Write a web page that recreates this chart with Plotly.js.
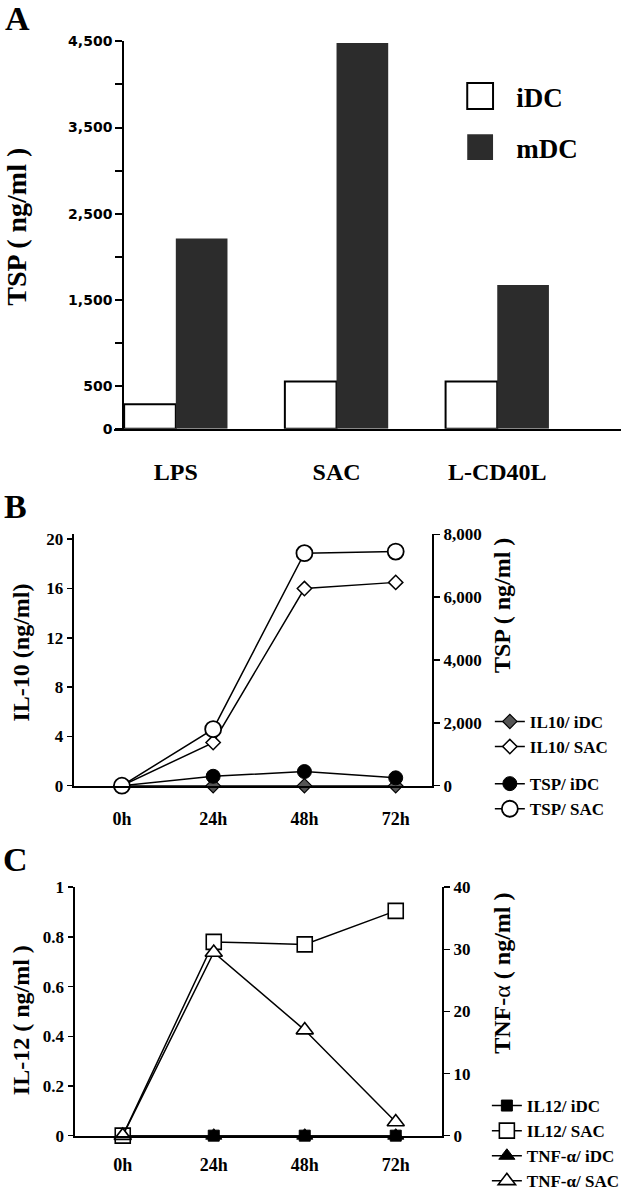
<!DOCTYPE html>
<html><head><meta charset="utf-8">
<script src="https://cdn.plot.ly/plotly-3.0.1.min.js"></script>
<style>html,body{margin:0;padding:0;background:#fff;overflow:hidden}</style>
</head><body><div id="chart" style="width:625px;height:1199px"></div>
<script>
// ---------- Panel A data ----------
const stimuli = ['LPS', 'SAC', 'L-CD40L'];
const tspIDC = [285, 550, 550];
const tspMDC = [2210, 4480, 1670];
const tspTickVals = [0, 500, 1000, 1500, 2000, 2500, 3000, 3500, 4000, 4500];
const tspTickText = ['0', '500', '', '1,500', '', '2,500', '', '3,500', '', '4,500'];

// ---------- Panel B data ----------
const times = ['0h', '24h', '48h', '72h'];
const il10IDC = [0, 0, 0, 0];
const il10SAC = [0, 3.5, 16, 16.5];
const tspTimeIDC = [0, 300, 450, 250];
const tspTimeSAC = [0, 1800, 7400, 7450];
const il10TickVals = [0, 4, 8, 12, 16, 20];
const tspRightVals = [0, 2000, 4000, 6000, 8000];
const tspRightText = ['0', '2,000', '4,000', '6,000', '8,000'];

// ---------- Panel C data ----------
const il12IDC = [0, 0, 0, 0];
const il12SAC = [0, 0.78, 0.77, 0.905];
const tnfIDC = [0, 0, 0, 0];
const tnfSAC = [0, 29.5, 17, 2.2];
const il12TickVals = [0, 0.2, 0.4, 0.6, 0.8, 1];
const il12TickText = ['0', '0.2', '0.4', '0.6', '0.8', '1'];
const tnfTickVals = [0, 10, 20, 30, 40];

// ---------- helpers ----------
const W = 625, H = 1199;
const X = px => px / W;
const Y = py => 1 - py / H;
const SERIF = 'Liberation Serif, Times New Roman, serif';
const bold = (size, family) => ({family: family || SERIF, size: size, weight: 'bold', color: '#000'});

const lineStyle = {color: '#000', width: 1.5};

const traces = [
  // Panel A
  {type: 'bar', x: stimuli, y: tspIDC, name: 'iDC', xaxis: 'x', yaxis: 'y', legend: 'legend', legendgroup: 'a1',
   marker: {color: '#ffffff', line: {color: '#000', width: 2}}},
  {type: 'bar', x: stimuli, y: tspMDC, name: 'mDC', xaxis: 'x', yaxis: 'y', legend: 'legend', legendgroup: 'a2',
   marker: {color: '#2c2c2c', line: {color: '#111', width: 0}}},
  // Panel B
  {type: 'scatter', mode: 'lines+markers', x: times, y: il10IDC, name: 'IL10/ iDC', xaxis: 'x2', yaxis: 'y2',
   legend: 'legend2', legendgroup: 'b1', cliponaxis: false, line: lineStyle,
   marker: {symbol: 'diamond', size: 11, color: '#555', line: {color: '#000', width: 1.2}}},
  {type: 'scatter', mode: 'lines+markers', x: times, y: il10SAC, name: 'IL10/ SAC', xaxis: 'x2', yaxis: 'y2',
   legend: 'legend2', legendgroup: 'b1', cliponaxis: false, line: lineStyle,
   marker: {symbol: 'diamond', size: 11, color: '#fff', line: {color: '#000', width: 1.5}}},
  {type: 'scatter', mode: 'lines+markers', x: times, y: tspTimeIDC, name: 'TSP/ iDC', xaxis: 'x2', yaxis: 'y3',
   legend: 'legend2', legendgroup: 'b2', cliponaxis: false, line: lineStyle,
   marker: {symbol: 'circle', size: 14, color: '#000', line: {color: '#000', width: 1}}},
  {type: 'scatter', mode: 'lines+markers', x: times, y: tspTimeSAC, name: 'TSP/ SAC', xaxis: 'x2', yaxis: 'y3',
   legend: 'legend2', legendgroup: 'b2', cliponaxis: false, line: lineStyle,
   marker: {symbol: 'circle', size: 16, color: '#fff', line: {color: '#000', width: 1.8}}},
  // Panel C
  {type: 'scatter', mode: 'lines+markers', x: times, y: il12IDC, name: 'IL12/ iDC', xaxis: 'x3', yaxis: 'y4',
   legend: 'legend3', cliponaxis: false, line: lineStyle,
   marker: {symbol: 'square', size: 11, color: '#000', line: {color: '#000', width: 1}}},
  {type: 'scatter', mode: 'lines+markers', x: times, y: il12SAC, name: 'IL12/ SAC', xaxis: 'x3', yaxis: 'y4',
   legend: 'legend3', cliponaxis: false, line: lineStyle,
   marker: {symbol: 'square', size: 15, color: '#fff', line: {color: '#000', width: 1.6}}},
  {type: 'scatter', mode: 'lines+markers', x: times, y: tnfIDC, name: 'TNF-α/ iDC', xaxis: 'x3', yaxis: 'y5',
   legend: 'legend3', cliponaxis: false, line: lineStyle,
   marker: {symbol: 'triangle-up', size: 14, color: '#000', line: {color: '#000', width: 1}}},
  {type: 'scatter', mode: 'lines+markers', x: times, y: tnfSAC, name: 'TNF-α/ SAC', xaxis: 'x3', yaxis: 'y5',
   legend: 'legend3', cliponaxis: false, line: lineStyle,
   marker: {symbol: 'triangle-up', size: 15, color: '#fff', line: {color: '#000', width: 1.6}}}
];

const axBase = {showgrid: false, zeroline: false, showline: true, linecolor: '#000', linewidth: 2, fixedrange: true};
const hiddenTick = {ticks: 'outside', tickcolor: 'rgba(0,0,0,0)'};

const layout = {
  width: W, height: H,
  margin: {l: 0, r: 0, t: 0, b: 0},
  paper_bgcolor: '#fff', plot_bgcolor: 'rgba(0,0,0,0)',
  font: {family: SERIF, color: '#000'},
  barmode: 'group', bargap: 0.357, bargroupgap: 0,
  showlegend: true,
  // Panel A
  xaxis: Object.assign({}, axBase, hiddenTick, {domain: [X(115), 1], range: [-0.383, 2.77], anchor: 'y',
    ticklen: 20, tickfont: bold(24)}),
  yaxis: Object.assign({}, axBase, {domain: [Y(435), Y(42)], range: [0, 4500], anchor: 'free', position: X(124),
    ticks: 'outside', ticklen: 7, tickwidth: 2, tickcolor: '#000', tickvals: tspTickVals, ticktext: tspTickText,
    tickfont: bold(14, 'DejaVu Sans')}),
  // Panel B
  xaxis2: Object.assign({}, axBase, hiddenTick, {domain: [X(74), X(435)], range: [-0.53, 3.4], anchor: 'y2',
    type: 'category', ticklen: 16, tickfont: bold(18)}),
  yaxis2: Object.assign({}, axBase, {domain: [Y(797), Y(542)], range: [0, 20.4], anchor: 'x2',
    ticks: 'outside', ticklen: 5, tickwidth: 1.5, tickcolor: '#000', tickvals: il10TickVals, tickfont: bold(17)}),
  yaxis3: Object.assign({}, axBase, {domain: [Y(797), Y(542)], range: [0, 8000], anchor: 'x2', overlaying: 'y2', side: 'right',
    ticks: 'outside', ticklen: 6, tickwidth: 1.5, tickcolor: '#000', tickvals: tspRightVals, ticktext: tspRightText, tickfont: bold(17)}),
  // Panel C
  xaxis3: Object.assign({}, axBase, hiddenTick, {domain: [X(75), X(445)], range: [-0.53, 3.51], anchor: 'y4',
    type: 'category', ticklen: 12, tickfont: bold(18)}),
  yaxis4: Object.assign({}, axBase, {domain: [Y(1152), Y(900)], range: [0, 1], anchor: 'x3',
    ticks: 'outside', ticklen: 5, tickwidth: 1.5, tickcolor: '#000', tickvals: il12TickVals, ticktext: il12TickText, tickfont: bold(17)}),
  yaxis5: Object.assign({}, axBase, {domain: [Y(1152), Y(900)], range: [0, 40], anchor: 'x3', overlaying: 'y4', side: 'right',
    ticks: 'outside', ticklen: 6, tickwidth: 1.5, tickcolor: '#000', tickvals: tnfTickVals, tickfont: bold(17)}),
  // Legends
  legend: {x: X(447), y: Y(73), xanchor: 'left', yanchor: 'top', bgcolor: 'rgba(0,0,0,0)', borderwidth: 0,
    font: bold(27), itemwidth: 62, tracegroupgap: 13, traceorder: 'grouped'},
  legend2: {x: X(493), y: Y(714), xanchor: 'left', yanchor: 'top', bgcolor: 'rgba(0,0,0,0)', borderwidth: 0,
    font: bold(17), itemwidth: 30, tracegroupgap: 12, traceorder: 'grouped', itemsizing: 'trace'},
  legend3: {x: X(490), y: Y(1104), xanchor: 'left', yanchor: 'top', bgcolor: 'rgba(0,0,0,0)', borderwidth: 0,
    font: bold(17), itemwidth: 30, tracegroupgap: 0, traceorder: 'normal', itemsizing: 'trace'},
  annotations: [
    {text: 'A', x: X(18), y: Y(19), font: bold(34)},
    {text: 'B', x: X(16), y: Y(514), font: bold(34)},
    {text: 'C', x: X(16), y: Y(872), font: bold(34)},
    {text: 'TSP ( ng/ml )', x: X(17), y: Y(230), textangle: -90, font: bold(28)},
    {text: 'IL-10 (ng/ml)', x: X(21), y: Y(662), textangle: -90, font: bold(24)},
    {text: 'TSP ( ng/ml )', x: X(506), y: Y(614), textangle: -90, font: bold(24)},
    {text: 'IL-12 ( ng/ml )', x: X(21), y: Y(1035), textangle: -90, font: bold(24)},
    {text: 'TNF-<span style="font-weight:normal">α</span> ( ng/ml )', x: X(505), y: Y(987), textangle: -90, font: bold(24)}
  ].map(a => Object.assign({xref: 'paper', yref: 'paper', showarrow: false, xanchor: 'center', yanchor: 'middle'}, a))
};

Plotly.newPlot('chart', traces, layout, {staticPlot: true, displayModeBar: false}).then(gd => {
  // enlarge the panel-A legend swatches to match the big boxes of the original
  gd.querySelectorAll('g.legend .legendpoints path').forEach(p => {
    const t = p.getAttribute('transform') || '';
    p.setAttribute('transform', t + ' scale(2.15)');
    p.style.vectorEffect = 'non-scaling-stroke';
  });
});
</script>
</body></html>
